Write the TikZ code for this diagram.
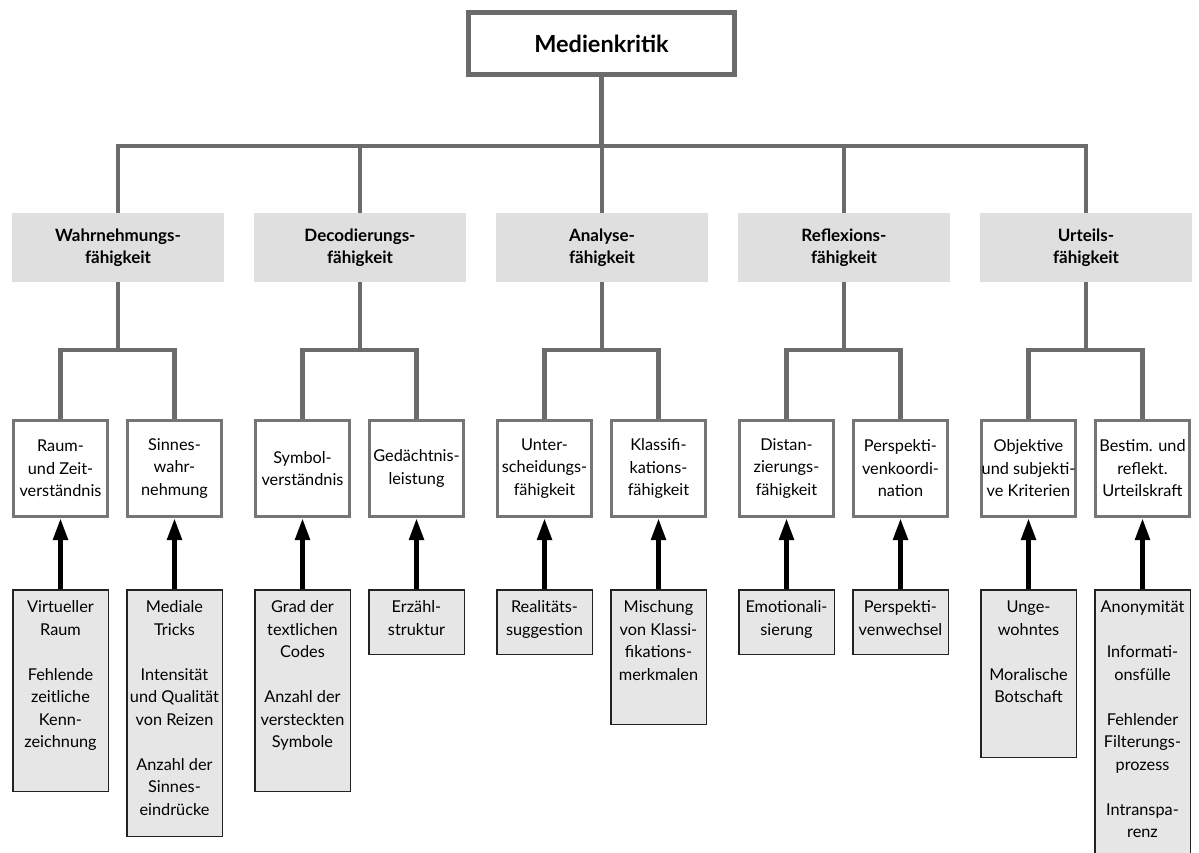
\documentclass[tikz,border=0pt]{standalone}
\usepackage{fontspec}
\setmainfont{Lato}
\usetikzlibrary{arrows.meta}
\definecolor{conncol}{HTML}{6B6B6B}
\definecolor{catfill}{HTML}{DFDFDF}
\definecolor{leaffill}{HTML}{E6E6E6}
\definecolor{leafline}{HTML}{222222}
\definecolor{wline}{HTML}{757575}
\newcommand\pgap{\\[22.5pt]}
\newcommand\leaftxt[2]{\parbox[t][#1][t]{95.5pt}{\centering\strut #2}}
\begin{document}
\begin{tikzpicture}[x=1pt,y=-1pt,
 conn/.style={draw=conncol, line width=4.5pt, line join=miter},
 topbox/.style={draw=conncol, line width=5pt, fill=white, minimum width=266pt, minimum height=62pt, inner sep=0pt, font=\fontsize{23.5}{28}\selectfont\bfseries},
 catbox/.style={fill=catfill, minimum width=212pt, minimum height=69pt, inner sep=0pt, align=center, font=\fontsize{17}{22}\selectfont\bfseries},
 subbox/.style={draw=wline, line width=3pt, fill=white, minimum width=94pt, minimum height=96pt, inner sep=0pt, align=center, font=\fontsize{16.3}{22.5}\selectfont},
 leafbox/.style={draw=leafline, line width=1.5pt, fill=leaffill, inner xsep=0pt, inner ysep=7pt, anchor=north, font=\fontsize{16.3}{22.5}\selectfont},
 arr/.style={draw=black, line width=5pt, -{Triangle[width=14pt,length=22pt]}},
]
\useasboundingbox[fill=white] (0,0) rectangle (1199,852);

\coordinate (bar) at (0,146);
\coordinate (br) at (0,350);

\node[topbox] (top) at (601.5,43.5) {Medienkritik};

\node[catbox] (c1) at (118,247.5) {Wahrnehmungs-\\fähigkeit};
\node[catbox] (c2) at (360,247.5) {Decodierungs-\\fähigkeit};
\node[catbox] (c3) at (602,247.5) {Analyse-\\fähigkeit};
\node[catbox] (c4) at (844,247.5) {Reflexions-\\fähigkeit};
\node[catbox] (c5) at (1086,247.5) {Urteils-\\fähigkeit};

\node[subbox] (w1) at (60.5,468.5) {Raum-\\und Zeit-\\verständnis};
\node[subbox] (w2) at (174.5,468.5) {Sinnes-\\wahr-\\nehmung};
\node[subbox] (w3) at (302.5,468.5) {Symbol-\\verständnis};
\node[subbox] (w4) at (416.5,468.5) {Gedächtnis-\\leistung};
\node[subbox] (w5) at (544.5,468.5) {Unter-\\scheidungs-\\fähigkeit};
\node[subbox] (w6) at (658.5,468.5) {Klassifi-\\kations-\\fähigkeit};
\node[subbox] (w7) at (786.5,468.5) {Distan-\\zierungs-\\fähigkeit};
\node[subbox] (w8) at (900.5,468.5) {Perspekti-\\venkoordi-\\nation};
\node[subbox] (w9) at (1028.5,468.5) {Objektive\\und subjekti-\\ve Kriterien};
\node[subbox] (w10) at (1142.5,468.5) {Bestim. und\\reflekt.\\Urteilskraft};

\node[leafbox] (g1) at (60.5,589) {\leaftxt{187.5pt}{Virtueller\\Raum\pgap Fehlende\\zeitliche\\Kenn-\\zeichnung}};
\node[leafbox] (g2) at (174.5,589) {\leaftxt{232.5pt}{Mediale\\Tricks\pgap Intensität\\und~Qualität\\von~Reizen\pgap Anzahl~der\\Sinnes-\\eindrücke}};
\node[leafbox] (g3) at (302.5,589) {\leaftxt{187.5pt}{Grad~der\\textlichen\\Codes\pgap Anzahl~der\\versteckten\\Symbole}};
\node[leafbox] (g4) at (416.5,589) {\leaftxt{50.5pt}{Erzähl-\\struktur}};
\node[leafbox] (g5) at (544.5,589) {\leaftxt{50.5pt}{Realitäts-\\suggestion}};
\node[leafbox] (g6) at (658.5,589) {\leaftxt{120.5pt}{Mischung\\von~Klassi-\\fikations-\\merkmalen}};
\node[leafbox] (g7) at (786.5,589) {\leaftxt{50.5pt}{Emotionali-\\sierung}};
\node[leafbox] (g8) at (900.5,589) {\leaftxt{50.5pt}{Perspekti-\\venwechsel}};
\node[leafbox] (g9) at (1028.5,589) {\leaftxt{153.5pt}{Unge-\\wohntes\pgap Moralische\\Botschaft}};
\node[leafbox] (g10) at (1142.5,589) {\leaftxt{264.5pt}{Anonymität\pgap Informati-\\onsfülle\pgap Fehlender\\Filterungs-\\prozess\pgap Intranspa-\\renz}};

% top level connectors
\draw[conn] (top.south) -- (top.south |- bar);
\draw[conn] (c1.north) -- (c1.north |- bar) -- (c5.north |- bar) -- (c5.north);
\draw[conn] (c2.north) -- (c2.north |- bar);
\draw[conn] (c3.north) -- (c3.north |- bar);
\draw[conn] (c4.north) -- (c4.north |- bar);

% brackets
\draw[conn] (c1.south) -- (c1.south |- br);
\draw[conn] (w1.north) -- (w1.north |- br) -- (w2.north |- br) -- (w2.north);
\draw[conn] (c2.south) -- (c2.south |- br);
\draw[conn] (w3.north) -- (w3.north |- br) -- (w4.north |- br) -- (w4.north);
\draw[conn] (c3.south) -- (c3.south |- br);
\draw[conn] (w5.north) -- (w5.north |- br) -- (w6.north |- br) -- (w6.north);
\draw[conn] (c4.south) -- (c4.south |- br);
\draw[conn] (w7.north) -- (w7.north |- br) -- (w8.north |- br) -- (w8.north);
\draw[conn] (c5.south) -- (c5.south |- br);
\draw[conn] (w9.north) -- (w9.north |- br) -- (w10.north |- br) -- (w10.north);

% arrows
\foreach \i in {1,...,10} {\draw[arr] (g\i.north) -- (w\i.south);}
\end{tikzpicture}
\end{document}
